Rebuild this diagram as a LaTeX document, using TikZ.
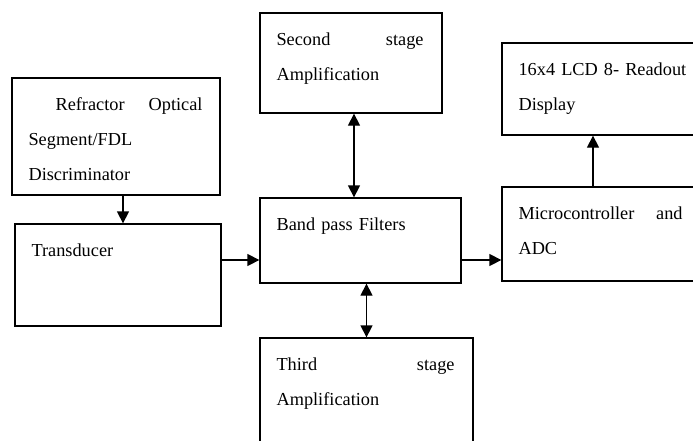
\documentclass[tikz,border=0pt]{standalone}
\usepackage{fontspec}
\setmainfont{Liberation Serif}
\usetikzlibrary{arrows.meta}
\usetikzlibrary{calc}
\tikzset{
	blk/.style={shape=rectangle,draw,line width=1.3pt,inner sep=0pt},
	txt/.style={anchor=base west,inner sep=0pt,align=left,font=\fontsize{18.3}{35}\selectfont},
	arr/.style={line width=1.3pt,-{Triangle[length=12pt,width=12pt]}},
	dblarr/.style={line width=1.3pt,{Triangle[length=12pt,width=12pt]}-{Triangle[length=12pt,width=12pt]}}
}
\newcommand{\spreadgap}{\hskip 0pt plus 1filll\relax}
\newcommand{\drawblock}[6]{
	\node (#2) [blk,minimum width=#3,minimum height=#4] at #1 {};
	\node (#2txt) [txt,text width=#5] at ($(#2.north west)+(17,33)$) {#6};
}

\begin{document}
\begin{tikzpicture}[x=1pt,y=-1pt]
	\useasboundingbox (0,0) rectangle (693,440);
	\clip (0,0) rectangle (693,440);
	\drawblock{(116,136.5)}{refr}{208}{117}{174}{\hspace*{27pt}Refractor\spreadgap Optical\\Segment/FDL\\Discriminator}
	\drawblock{(118,275)}{trans}{206}{102}{150}{Transducer}
	\drawblock{(351,63)}{second}{182}{100}{147}{Second\spreadgap stage\\Amplification}
	\drawblock{(360.5,240.5)}{band}{201}{85}{170}{Band pass Filters}
	\drawblock{(366.5,399)}{third}{213}{122}{178}{Third\spreadgap stage\\Amplification}
	\drawblock{(603.5,89)}{lcd}{203}{92}{180}{16x4 LCD 8- Readout\\Display}
	\drawblock{(603.5,234)}{micro}{203}{94}{164}{Microcontroller\spreadgap and\\ADC}
	\draw[arr] ([xshift=7pt]refr.south) -- ([xshift=5pt]trans.north);
	\draw[arr] ([yshift=15pt]trans.east) -- ([yshift=15pt]trans.east -| band.west);
	\draw[dblarr] ([xshift=3pt]second.south) -- ([xshift=3pt]second.south |- band.north);
	\draw[dblarr] (band.south -| third.north) -- (third.north);
	\draw[arr] ([yshift=-19.5pt]band.east) -- ([yshift=-19.5pt]band.east -| micro.west);
	\draw[arr] ([xshift=-10.5pt]micro.north) -- ([xshift=-10.5pt]lcd.south);
\end{tikzpicture}
\end{document}
